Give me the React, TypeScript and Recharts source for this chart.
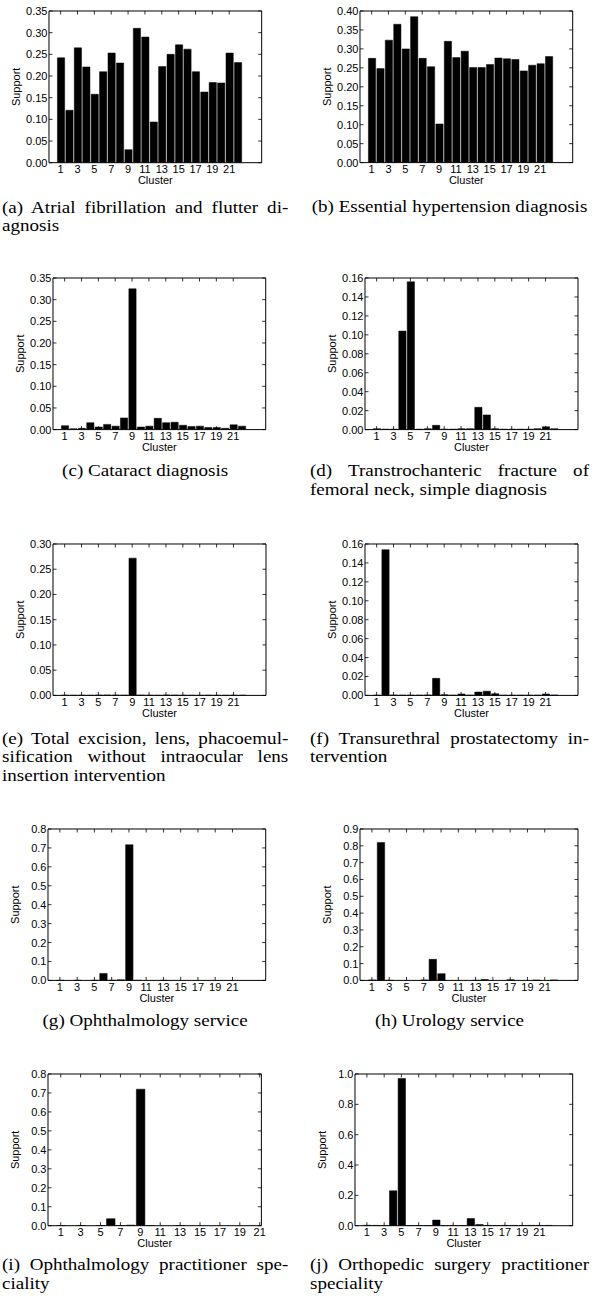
import React from 'react';
import { BarChart, Bar, XAxis, YAxis } from 'recharts';

// ---------- data ----------
const clusters = [1, 2, 3, 4, 5, 6, 7, 8, 9, 10, 11, 12, 13, 14, 15, 16, 17, 18, 19, 20, 21, 22];
const clusterTicks = [1, 3, 5, 7, 9, 11, 13, 15, 17, 19, 21];

const supportA = [0.242, 0.121, 0.265, 0.221, 0.158, 0.210, 0.253, 0.230, 0.030, 0.310, 0.290, 0.094, 0.222, 0.250, 0.272, 0.262, 0.210, 0.163, 0.185, 0.184, 0.253, 0.231];
const supportB = [0.275, 0.248, 0.323, 0.365, 0.300, 0.385, 0.275, 0.253, 0.102, 0.320, 0.277, 0.294, 0.251, 0.251, 0.259, 0.276, 0.274, 0.272, 0.242, 0.257, 0.261, 0.280];
const supportC = [0.009, 0.002, 0.003, 0.016, 0.006, 0.012, 0.008, 0.027, 0.325, 0.006, 0.008, 0.026, 0.016, 0.017, 0.010, 0.007, 0.008, 0.005, 0.005, 0.003, 0.011, 0.008];
const supportD = [0.001, 0.0005, 0.0005, 0.104, 0.156, 0.0005, 0.001, 0.0045, 0.0005, 0.0005, 0.001, 0.001, 0.0235, 0.0155, 0.001, 0.0005, 0.0005, 0.0005, 0.0005, 0.001, 0.003, 0.001];
const supportE = [0.0005, 0.0003, 0.0005, 0.0003, 0.0008, 0.001, 0.0008, 0.0005, 0.272, 0.0008, 0.0005, 0.0003, 0.001, 0.0008, 0.0005, 0.0003, 0.0003, 0.0005, 0.0003, 0.0003, 0.0005, 0.0005];
const supportF = [0.0003, 0.154, 0.0005, 0.0003, 0.0003, 0.0003, 0.0005, 0.018, 0.0008, 0.0003, 0.0015, 0.0003, 0.0035, 0.0045, 0.0018, 0.0003, 0.0003, 0.0003, 0.0003, 0.0003, 0.0015, 0.0005];
const supportG = [0.0005, 0, 0.0005, 0, 0.0005, 0.037, 0.001, 0.003, 0.717, 0.0005, 0, 0, 0.0005, 0, 0, 0, 0, 0, 0, 0, 0, 0];
const supportH = [0.003, 0.82, 0.0005, 0, 0, 0, 0.003, 0.125, 0.04, 0, 0, 0, 0.0005, 0.005, 0, 0, 0.004, 0, 0, 0.002, 0, 0.003];
const supportI = [0.0005, 0, 0.0005, 0, 0.0005, 0.037, 0.001, 0.003, 0.72, 0.0005, 0, 0, 0.0005, 0, 0, 0, 0, 0, 0, 0, 0];
const supportJ = [0.003, 0.002, 0.001, 0.23, 0.97, 0.001, 0.001, 0.001, 0.037, 0.001, 0.001, 0.001, 0.047, 0.008, 0.002, 0.001, 0.002, 0.002, 0.001, 0.002, 0.002, 0.002];

const ticks035 = [0, 0.05, 0.1, 0.15, 0.2, 0.25, 0.3, 0.35];
const ticks040 = [0, 0.05, 0.1, 0.15, 0.2, 0.25, 0.3, 0.35, 0.4];
const ticks030 = [0, 0.05, 0.1, 0.15, 0.2, 0.25, 0.3];
const ticks016 = [0, 0.02, 0.04, 0.06, 0.08, 0.1, 0.12, 0.14, 0.16];
const ticks08 = [0, 0.1, 0.2, 0.3, 0.4, 0.5, 0.6, 0.7, 0.8];
const ticks09 = [0, 0.1, 0.2, 0.3, 0.4, 0.5, 0.6, 0.7, 0.8, 0.9];
const ticks10 = [0, 0.2, 0.4, 0.6, 0.8, 1.0];

const captionA = ['(a) Atrial fibrillation and flutter di-', 'agnosis'];
const captionB = ['(b) Essential hypertension diagnosis'];
const captionC = ['(c) Cataract diagnosis'];
const captionD = ['(d) Transtrochanteric fracture of', 'femoral neck, simple diagnosis'];
const captionE = ['(e) Total excision, lens, phacoemul-', 'sification without intraocular lens', 'insertion intervention'];
const captionF = ['(f) Transurethral prostatectomy in-', 'tervention'];
const captionG = ['(g) Ophthalmology service'];
const captionH = ['(h) Urology service'];
const captionI = ['(i) Ophthalmology practitioner spe-', 'ciality'];
const captionJ = ['(j) Orthopedic surgery practitioner', 'speciality'];

// ---------- layout / style ----------
const SANS = '"Liberation Sans", Arial, Helvetica, sans-serif';
const SERIF = '"Liberation Serif", "Times New Roman", serif';
const TICK_FS = 11;
const CAP_FS = 16.3;
const CAP_SX = 1.17;
const CAP_LH = 18.8;
const ML = 52, MT = 10, MR = 10, MB = 34;
const AX = 1; // thickness reserved for each axis
const TL = 3.5;

const X22: [number, number] = [-0.38, 24.85];
const X21: [number, number] = [-0.28, 21.17];

const COL_L = { left: 1.7, width: 286.3 };
const COL_R = { left: 310, width: 279 };

type PanelCfg = {
  values: number[];
  yTicks: number[];
  digits: number;
  xDomain: [number, number];
  left: number; top: number; right: number; bottom: number;
  caption: string[];
  col: { left: number; width: number };
  capGap: number;
};

const panels: PanelCfg[] = [
  { values: supportA, yTicks: ticks035, digits: 2, xDomain: X22, left: 49.3, top: 11, right: 262, bottom: 162.7, caption: captionA, col: COL_L, capGap: 51 },
  { values: supportB, yTicks: ticks040, digits: 2, xDomain: X22, left: 360.3, top: 10.7, right: 573, bottom: 162.3, caption: captionB, col: COL_R, capGap: 51 },
  { values: supportC, yTicks: ticks035, digits: 2, xDomain: X22, left: 53.3, top: 277.7, right: 266, bottom: 429.3, caption: captionC, col: COL_L, capGap: 48 },
  { values: supportD, yTicks: ticks016, digits: 2, xDomain: X22, left: 364.7, top: 277.7, right: 577.7, bottom: 429.3, caption: captionD, col: COL_R, capGap: 48 },
  { values: supportE, yTicks: ticks030, digits: 2, xDomain: X22, left: 52.7, top: 544.3, right: 265.7, bottom: 695.7, caption: captionE, col: COL_L, capGap: 49 },
  { values: supportF, yTicks: ticks016, digits: 2, xDomain: X22, left: 364.7, top: 544.3, right: 577.7, bottom: 695.7, caption: captionF, col: COL_R, capGap: 49 },
  { values: supportG, yTicks: ticks08, digits: 1, xDomain: X22, left: 48.3, top: 829.3, right: 266, bottom: 980.7, caption: captionG, col: COL_L, capGap: 46 },
  { values: supportH, yTicks: ticks09, digits: 1, xDomain: X22, left: 359.7, top: 829.3, right: 577.7, bottom: 980.7, caption: captionH, col: COL_R, capGap: 46 },
  { values: supportI, yTicks: ticks08, digits: 1, xDomain: X21, left: 48.3, top: 1074.3, right: 261.7, bottom: 1226, caption: captionI, col: COL_L, capGap: 45 },
  { values: supportJ, yTicks: ticks10, digits: 1, xDomain: X22, left: 355.3, top: 1074.3, right: 573, bottom: 1226, caption: captionJ, col: COL_R, capGap: 45 },
];

function Caption({ lines, col, baseline }: { lines: string[]; col: { left: number; width: number }; baseline: number }) {
  const innerW = col.width / CAP_SX;
  return (
    <div
      style={{
        position: 'absolute',
        left: col.left,
        top: baseline - 15,
        width: innerW,
        transform: `scaleX(${CAP_SX})`,
        transformOrigin: '0 0',
        fontFamily: SERIF,
        fontSize: CAP_FS,
        lineHeight: `${CAP_LH}px`,
        color: '#000',
      }}
    >
      {lines.map((ln, i) => {
        const single = lines.length === 1;
        const last = i === lines.length - 1;
        const align = single ? 'center' : last ? 'left' : 'justify';
        return (
          <div key={i} style={{ textAlign: align as any, textAlignLast: align as any }}>
            {ln}
          </div>
        );
      })}
    </div>
  );
}

function Panel({ p }: { p: PanelCfg }) {
  const pw = p.right - p.left;
  const ph = p.bottom - p.top;
  const W = pw + ML + MR;
  const H = ph + MT + MB;
  const unit = pw / (p.xDomain[1] - p.xDomain[0]);
  const plotB = MT + ph;
  const plotR = ML + pw;
  const yMax = p.yTicks[p.yTicks.length - 1];
  const data = p.values.map((v, i) => ({ cluster: clusters[i], support: v }));

  const xTickBottom = (props: any) => (
    <g>
      <line x1={props.x} x2={props.x} y1={plotB} y2={plotB - TL} stroke="#000" strokeWidth={0.8} />
      <text x={props.x} y={plotB + 10.5} textAnchor="middle" fontSize={TICK_FS} fontFamily={SANS} fill="#000">
        {props.payload.value}
      </text>
    </g>
  );
  const xTickTop = (props: any) => (
    <line x1={props.x} x2={props.x} y1={MT} y2={MT + TL} stroke="#000" strokeWidth={0.8} />
  );
  const yTickLeft = (props: any) => (
    <g>
      <line x1={ML} x2={ML + TL} y1={props.y} y2={props.y} stroke="#000" strokeWidth={0.8} />
      <text x={ML - 1.5} y={props.y} dy="0.36em" textAnchor="end" fontSize={TICK_FS} fontFamily={SANS} fill="#000">
        {Number(props.payload.value).toFixed(p.digits)}
      </text>
    </g>
  );
  const yTickRight = (props: any) => (
    <line x1={plotR} x2={plotR - TL} y1={props.y} y2={props.y} stroke="#000" strokeWidth={0.8} />
  );

  return (
    <div style={{ position: 'absolute', left: p.left - ML, top: p.top - MT }}>
      <BarChart
        width={W}
        height={H}
        data={data}
        margin={{ top: MT - AX, right: MR - AX, bottom: MB - AX, left: ML - AX }}
      >
        <XAxis
          xAxisId="b"
          type="number"
          dataKey="cluster"
          domain={p.xDomain}
          ticks={clusterTicks}
          interval={0}
          allowDataOverflow
          height={AX}
          axisLine={{ stroke: '#000', strokeWidth: 1 }}
          tickLine={false}
          tick={xTickBottom}
          label={{ value: 'Cluster', position: 'bottom', offset: 12.7, fill: '#000', fontSize: TICK_FS, fontFamily: SANS }}
        />
        <XAxis
          xAxisId="t"
          orientation="top"
          type="number"
          dataKey="cluster"
          domain={p.xDomain}
          ticks={clusterTicks}
          interval={0}
          allowDataOverflow
          height={AX}
          axisLine={{ stroke: '#000', strokeWidth: 1 }}
          tickLine={false}
          tick={xTickTop}
        />
        <YAxis
          yAxisId="l"
          type="number"
          domain={[0, yMax]}
          ticks={p.yTicks}
          interval={0}
          allowDataOverflow
          width={AX}
          axisLine={{ stroke: '#000', strokeWidth: 1 }}
          tickLine={false}
          tick={yTickLeft}
          label={{
            value: 'Support',
            angle: -90,
            position: 'left',
            offset: 31.9,
            fill: '#000',
            fontSize: TICK_FS,
            fontFamily: SANS,
            style: { textAnchor: 'middle' },
          }}
        />
        <YAxis
          yAxisId="r"
          orientation="right"
          type="number"
          domain={[0, yMax]}
          ticks={p.yTicks}
          interval={0}
          allowDataOverflow
          width={AX}
          axisLine={{ stroke: '#000', strokeWidth: 1 }}
          tickLine={false}
          tick={yTickRight}
        />
        <Bar
          xAxisId="b"
          yAxisId="l"
          dataKey="support"
          fill="#000"
          stroke="#000"
          strokeWidth={0.5}
          barSize={unit * 0.86}
          isAnimationActive={false}
        />
      </BarChart>
    </div>
  );
}

export default function App() {
  return (
    <div style={{ position: 'relative', width: 594, height: 1299, background: '#fff', overflow: 'hidden' }}>
      <style>{`body{margin:0;background:#fff;}`}</style>
      {panels.map((p, i) => (
        <React.Fragment key={i}>
          <Panel p={p} />
          <Caption lines={p.caption} col={p.col} baseline={p.bottom + p.capGap} />
        </React.Fragment>
      ))}
    </div>
  );
}
